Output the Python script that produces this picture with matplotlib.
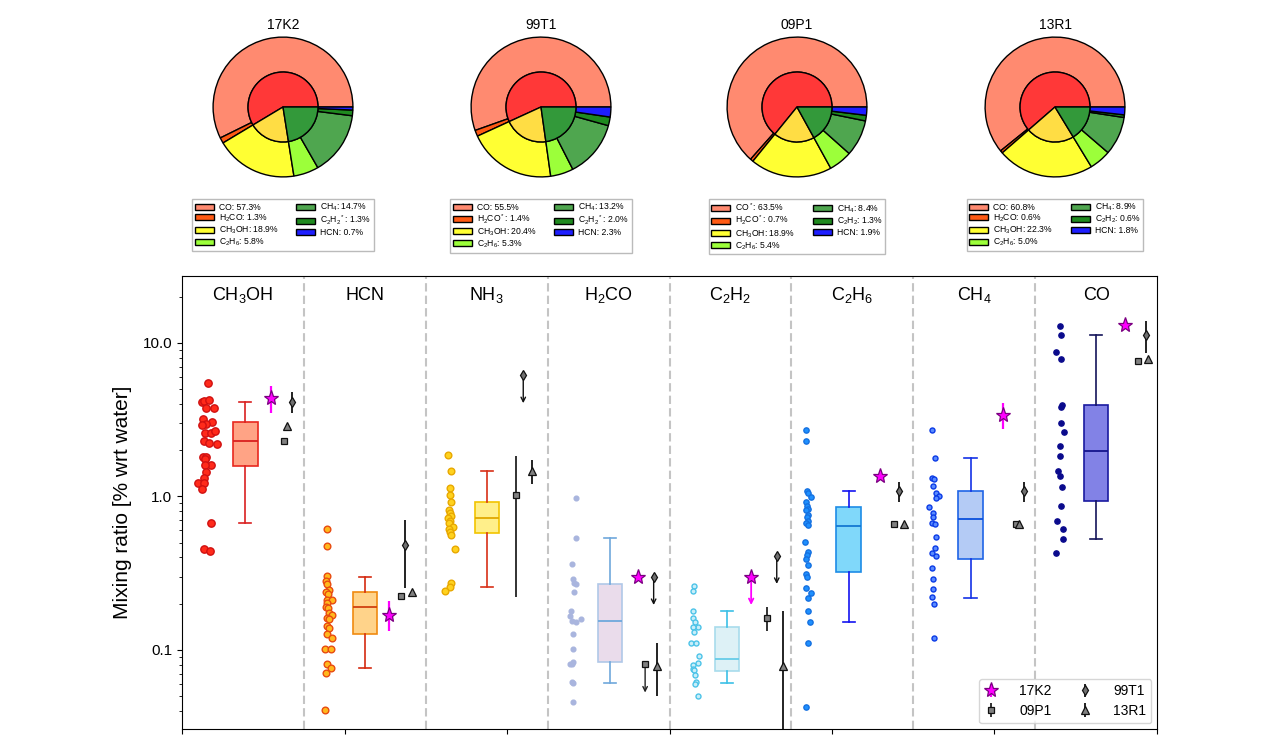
import numpy as np
import matplotlib
matplotlib.use("Agg")
import matplotlib.pyplot as plt
from matplotlib.ticker import FuncFormatter, NullFormatter

plt.rcParams['font.family'] = ['Liberation Sans', 'DejaVu Sans']
plt.rcParams['mathtext.fontset'] = 'custom'
plt.rcParams['mathtext.rm'] = 'Liberation Sans'
plt.rcParams['mathtext.it'] = 'Liberation Sans:italic'
plt.rcParams['mathtext.bf'] = 'Liberation Sans:bold'

nan = np.nan

# ---- pie data (percent of total) ----
comets = ["17K2", "99T1", "09P1", "13R1"]
pie_tex = ["CO", "H$_2$CO", "CH$_3$OH", "C$_2$H$_6$", "CH$_4$", "C$_2$H$_2$", "HCN"]
pie_17K2 = [57.3, 1.3, 18.9, 5.8, 14.7, 1.3, 0.7]
pie_99T1 = [55.5, 1.4, 20.4, 5.3, 13.2, 2.0, 2.3]
pie_09P1 = [63.5, 0.7, 18.9, 5.4, 8.4, 1.3, 1.9]
pie_13R1 = [60.8, 0.6, 22.3, 5.0, 8.9, 0.6, 1.8]
# which legend entries carry a star
pie_star_17K2 = [0, 0, 0, 0, 0, 1, 0]
pie_star_99T1 = [0, 1, 0, 0, 0, 1, 0]
pie_star_09P1 = [1, 1, 0, 0, 0, 0, 0]
pie_star_13R1 = [0, 0, 0, 0, 0, 0, 0]

# ---- main panel ----
species = ["CH$_3$OH", "HCN", "NH$_3$", "H$_2$CO", "C$_2$H$_2$", "C$_2$H$_6$", "CH$_4$", "CO"]

ch3oh_pts = [5.49, 4.11, 4.17, 4.27, 3.77, 3.77, 3.19, 3.06, 2.97, 2.91, 2.58, 2.58, 2.66, 2.29, 2.22,
             2.18, 1.80, 1.80, 1.75, 1.61, 1.59, 1.44, 1.32, 1.23, 1.22, 1.12, 0.675, 0.453, 0.44]
hcn_pts = [0.611, 0.478, 0.303, 0.283, 0.269, 0.244, 0.240, 0.232, 0.212, 0.210, 0.203, 0.191, 0.187, 0.173,
           0.169, 0.161, 0.160, 0.142, 0.138, 0.127, 0.120, 0.101, 0.101, 0.0806, 0.0767, 0.0705, 0.0406]
nh3_pts = [1.85, 1.47, 1.13, 1.02, 0.916, 0.817, 0.78, 0.750, 0.721, 0.696, 0.67, 0.636, 0.611, 0.59,
           0.561, 0.457, 0.272, 0.255, 0.241]
h2co_pts = [0.973, 0.539, 0.360, 0.289, 0.272, 0.270, 0.240, 0.180, 0.165, 0.155, 0.151, 0.158, 0.127,
            0.101, 0.0806, 0.0839, 0.0806, 0.0622, 0.0607, 0.0454]
c2h2_pts = [0.261, 0.241, 0.180, 0.161, 0.151, 0.141, 0.141, 0.130, 0.111, 0.111, 0.0906, 0.0827,
            0.0798, 0.0748, 0.0740, 0.0687, 0.0616, 0.0601, 0.0504]
c2h6_pts = [2.71, 2.28, 1.09, 1.06, 0.997, 0.916, 0.871, 0.826, 0.817, 0.757, 0.738, 0.696, 0.675, 0.652,
            0.508, 0.437, 0.416, 0.390, 0.358, 0.313, 0.300, 0.252, 0.234, 0.217, 0.180, 0.151, 0.111, 0.0424]
ch4_pts = [2.71, 1.79, 1.31, 1.29, 1.17, 1.06, 1.01, 0.982, 0.859, 0.777, 0.738, 0.668, 0.657, 0.547,
           0.459, 0.426, 0.409, 0.340, 0.289, 0.249, 0.220, 0.200, 0.120]
co_pts = [12.9, 11.3, 8.69, 7.83, 3.96, 3.85, 3.03, 2.63, 2.14, 1.82, 1.47, 1.35, 1.15, 0.867, 0.692,
          0.617, 0.531, 0.430]

# horizontal place of each survey point inside its column (fraction of column width)
ch3oh_dx = [0.21, 0.16, 0.18, 0.22, 0.26, 0.20, 0.17, 0.25, 0.20, 0.16, 0.19, 0.24, 0.27, 0.18, 0.22,
            0.29, 0.17, 0.20, 0.19, 0.24, 0.19, 0.20, 0.18, 0.13, 0.18, 0.16, 0.24, 0.18, 0.23]
hcn_dx = [0.19, 0.19, 0.19, 0.18, 0.19, 0.21, 0.18, 0.20, 0.19, 0.23, 0.19, 0.18, 0.20, 0.21, 0.23,
          0.19, 0.21, 0.19, 0.21, 0.19, 0.23, 0.17, 0.22, 0.19, 0.22, 0.18, 0.17]
nh3_dx = [0.18, 0.21, 0.20, 0.20, 0.21, 0.19, 0.20, 0.21, 0.18, 0.20, 0.19, 0.22, 0.19, 0.20, 0.21,
          0.24, 0.21, 0.20, 0.16]
h2co_dx = [0.23, 0.23, 0.20, 0.21, 0.22, 0.23, 0.22, 0.19, 0.18, 0.20, 0.23, 0.27, 0.21, 0.21, 0.18,
           0.21, 0.20, 0.20, 0.21, 0.21]
c2h2_dx = [0.20, 0.19, 0.19, 0.19, 0.21, 0.23, 0.19, 0.20, 0.18, 0.22, 0.24, 0.23, 0.19, 0.19, 0.20,
           0.21, 0.22, 0.21, 0.23]
c2h6_dx = [0.12, 0.12, 0.13, 0.14, 0.16, 0.12, 0.13, 0.14, 0.12, 0.14, 0.13, 0.14, 0.12, 0.14, 0.11,
           0.14, 0.13, 0.12, 0.14, 0.12, 0.13, 0.12, 0.16, 0.14, 0.14, 0.15, 0.14, 0.12]
ch4_dx = [0.15, 0.18, 0.15, 0.17, 0.16, 0.19, 0.21, 0.19, 0.13, 0.16, 0.16, 0.15, 0.18, 0.19, 0.18,
          0.15, 0.19, 0.15, 0.16, 0.16, 0.15, 0.17, 0.17]
co_dx = [0.20, 0.21, 0.17, 0.21, 0.22, 0.21, 0.21, 0.24, 0.20, 0.20, 0.19, 0.20, 0.22, 0.21, 0.18,
         0.23, 0.23, 0.17]

# box statistics per species
box_hi = [4.15, 0.30, 1.47, 0.539, 0.180, 1.09, 1.78, 11.3]
box_q3 = [3.06, 0.240, 0.916, 0.270, 0.141, 0.850, 1.09, 3.95]
box_med = [2.28, 0.190, 0.721, 0.155, 0.0869, 0.645, 0.710, 1.98]
box_q1 = [1.58, 0.126, 0.575, 0.0839, 0.0732, 0.321, 0.392, 0.939]
box_lo = [0.668, 0.0767, 0.255, 0.0607, 0.0607, 0.151, 0.219, 0.531]

# individual comets: value, lower / upper bound, upper-limit flag
k2_val = [4.39, 0.169, nan, 0.30, 0.30, 1.35, 3.40, 13.1]
k2_lo = [3.48, 0.132, nan, nan, 0.196, nan, 2.74, nan]
k2_hi = [5.25, 0.209, nan, nan, nan, nan, 4.05, nan]
k2_ul = [0, 0, 0, 0, 1, 0, 0, 0]

t1_val = [4.15, 0.481, 6.19, 0.30, 0.409, 1.09, 1.09, 11.3]
t1_lo = [3.52, 0.252, 4.05, 0.196, 0.269, 0.925, 0.916, 8.65]
t1_hi = [4.82, 0.703, nan, nan, nan, 1.25, 1.25, 14.0]
t1_ul = [0, 0, 1, 1, 1, 0, 0, 0]

p1_val = [2.28, 0.225, 1.02, 0.0806, 0.161, 0.66, 0.66, 7.64]
p1_lo = [2.18, nan, 0.222, 0.0527, 0.132, nan, nan, nan]
p1_hi = [2.40, nan, 1.82, nan, 0.190, nan, nan, nan]
p1_ul = [0, 0, 0, 1, 0, 0, 0, 0]

r1_val = [2.88, 0.240, 1.47, 0.079, 0.079, 0.66, 0.66, 7.83]
r1_lo = [nan, nan, 1.20, 0.0504, 0.01, nan, nan, nan]
r1_hi = [nan, nan, 1.73, 0.111, 0.180, nan, nan, nan]
r1_ul = [0, 0, 0, 0, 0, 0, 0, 0]

# horizontal places inside each column
box_pos = [0.52, 0.50, 0.50, 0.51, 0.47, 0.47, 0.47, 0.50]
k2_pos = [0.73, 0.70, 0.70, 0.74, 0.67, 0.73, 0.74, 0.74]
p1_pos = [0.84, 0.80, 0.74, 0.80, 0.80, 0.84, 0.84, 0.84]
t1_pos = [0.90, 0.83, 0.80, 0.87, 0.88, 0.88, 0.91, 0.91]
r1_pos = [0.86, 0.89, 0.87, 0.90, 0.93, 0.92, 0.87, 0.93]

W, H = 1268, 750
fig = plt.figure(figsize=(W / 100, H / 100), dpi=100)

# ---------------- pies ----------------
outer_colors = ['#FF8A70', '#FF5A14', '#FFFF33', '#9CFF3A', '#4FA64F', '#1F8A1F', '#1E1EFF']
inner_colors = ['#FF3838', '#FFDD44', '#33993A']
pie_sets = [pie_17K2, pie_99T1, pie_09P1, pie_13R1]
pie_stars = [pie_star_17K2, pie_star_99T1, pie_star_09P1, pie_star_13R1]
pie_cx = [283, 541, 797, 1055]
pie_cy = 107
pie_r = 72

for name, vals, stars, cx in zip(comets, pie_sets, pie_stars, pie_cx):
    pax = fig.add_axes([(cx - pie_r) / W, (H - pie_cy - pie_r) / H, 2 * pie_r / W, 2 * pie_r / H])
    inner = [vals[0] + vals[1], vals[2], vals[3] + vals[4] + vals[5] + vals[6]]
    wedges, _ = pax.pie(vals, radius=1, colors=outer_colors, startangle=0,
                        wedgeprops=dict(width=0.5, edgecolor='k', linewidth=1))
    pax.pie(inner, radius=0.5, colors=inner_colors, startangle=0,
            wedgeprops=dict(edgecolor='k', linewidth=1))
    pax.set_xlim(-1.03, 1.03)
    pax.set_ylim(-1.03, 1.03)
    pax.set_title(name, fontsize=10, pad=4)
    labels = []
    for tex, v, s in zip(pie_tex, vals, stars):
        labels.append(f"{tex}{'$^*$' if s else ''}: {v:.1f}%")
    pax.legend(wedges, labels, loc='upper center', bbox_to_anchor=(0.5, -0.11), ncol=2,
               fontsize=6.2, fancybox=False, edgecolor='#AAAAAA', handlelength=2.2,
               handleheight=0.7, labelspacing=0.08, columnspacing=2.0, borderpad=0.3,
               handletextpad=0.6)

# ---------------- main panel ----------------
ax = fig.add_axes([182 / W, (H - 729) / H, (1157 - 182) / W, (729 - 276) / H])
ax.set_yscale('log')
ax.set_xlim(0, 8)
ax.set_ylim(0.0305, 27.3)

point_sets = [ch3oh_pts, hcn_pts, nh3_pts, h2co_pts, c2h2_pts, c2h6_pts, ch4_pts, co_pts]
dx_sets = [ch3oh_dx, hcn_dx, nh3_dx, h2co_dx, c2h2_dx, c2h6_dx, ch4_dx, co_dx]
pt_face = ['#FF2A1A', '#FFB81C', '#FFD21E', '#A9B5DE', '#C9EEF9', '#1E90FF', '#5A8CFF', '#0A0A8C']
pt_edge = ['#D01010', '#E84A10', '#E8A800', '#A9B5DE', '#4CC3E8', '#1470E0', '#0A3AE6', '#0A0A8C']
pt_size = [5.3, 4.8, 4.8, 3.4, 3.6, 3.8, 3.6, 3.8]
bx_face = ['#FFA385', '#FFD38A', '#FFEF8A', '#EADCEB', '#DDF1F6', '#80D8FA', '#B4CBF5', '#8282E6']
bx_edge = ['#E8281E', '#F08A10', '#F2C400', '#B0C8E8', '#A8DCEC', '#1E8CE6', '#1E64E6', '#1A1AA0']
bx_whisk = ['#D92020', '#D42A10', '#D83018', '#6FA8DC', '#3CC0E6', '#1414F0', '#1432E6', '#14145A']
bx_med = ['#D92020', '#D04010', '#E0A800', '#6FA8DC', '#66CCE8', '#1478D2', '#0A50DC', '#14148C']

for i in range(8):
    xs = [i + d for d in dx_sets[i]]
    ax.plot(xs, point_sets[i], 'o', ls='none', ms=pt_size[i], mfc=pt_face[i], mec=pt_edge[i],
            mew=1.0, zorder=3)
    stats = [dict(med=box_med[i], q1=box_q1[i], q3=box_q3[i], whislo=box_lo[i], whishi=box_hi[i],
                  fliers=[])]
    ax.bxp(stats, positions=[i + box_pos[i]], widths=0.2, patch_artist=True, showfliers=False,
           manage_ticks=False,
           boxprops=dict(facecolor=bx_face[i], edgecolor=bx_edge[i], linewidth=1.2),
           whiskerprops=dict(color=bx_whisk[i], linewidth=1.2),
           capprops=dict(color=bx_whisk[i], linewidth=1.2),
           medianprops=dict(color=bx_med[i], linewidth=1.3))
    if i > 0:
        ax.axvline(i, color='#C4C4C4', lw=1.5, ls=(0, (4, 2)), zorder=1)
    ax.text(i + 0.5, 0.958, species[i], transform=ax.get_xaxis_transform(), ha='center',
            va='center', fontsize=13)

comet_sets = [
    ("17K2", k2_val, k2_lo, k2_hi, k2_ul, k2_pos, '*', 11, '#FF00FF', '#7A0080', '#FF00FF', 1.6),
    ("99T1", t1_val, t1_lo, t1_hi, t1_ul, t1_pos, 'd', 5.5, '#707070', '#111111', '#111111', 1.3),
    ("09P1", p1_val, p1_lo, p1_hi, p1_ul, p1_pos, 's', 4.8, '#808080', '#111111', '#222222', 1.3),
    ("13R1", r1_val, r1_lo, r1_hi, r1_ul, r1_pos, '^', 5.5, '#808080', '#111111', '#111111', 1.3),
]
handles = {}
for name, val, lo, hi, ul, pos, mk, ms, fc, ec, lc, lw in comet_sets:
    xs, ys, el, eh = [], [], [], []
    for i in range(8):
        if np.isnan(val[i]):
            continue
        x = i + pos[i]
        xs.append(x)
        ys.append(val[i])
        if ul[i]:
            el.append(0)
            eh.append(0)
            ax.annotate('', xy=(x, lo[i]), xytext=(x, val[i]),
                        arrowprops=dict(arrowstyle='->', color=lc, lw=lw - 0.3,
                                        shrinkA=0, shrinkB=0, mutation_scale=8), zorder=4)
        else:
            el.append(0 if np.isnan(lo[i]) else val[i] - lo[i])
            eh.append(0 if np.isnan(hi[i]) else hi[i] - val[i])
    handles[name] = ax.errorbar(xs, ys, yerr=[el, eh], fmt=mk, ms=ms, mfc=fc, mec=ec, mew=0.9,
                                ecolor=lc, elinewidth=lw, capsize=0, label=name, zorder=5)

ax.legend([handles[n] for n in ["17K2", "09P1", "99T1", "13R1"]], ["17K2", "09P1", "99T1", "13R1"],
          loc='lower right', ncol=2, fontsize=10, columnspacing=1.9, handletextpad=1.5,
          handlelength=1.0, borderaxespad=0.4, labelspacing=0.4)

ax.yaxis.set_major_formatter(FuncFormatter(lambda v, _: f"{v:.1f}"))
ax.yaxis.set_minor_formatter(NullFormatter())
ax.set_xticks(np.linspace(0, 8, 7))
ax.set_xticklabels([])
ax.tick_params(axis='y', labelsize=11)
ax.set_ylabel("Mixing ratio [% wrt water]", fontsize=15, labelpad=8)

fig.savefig("out.png", dpi=100)
